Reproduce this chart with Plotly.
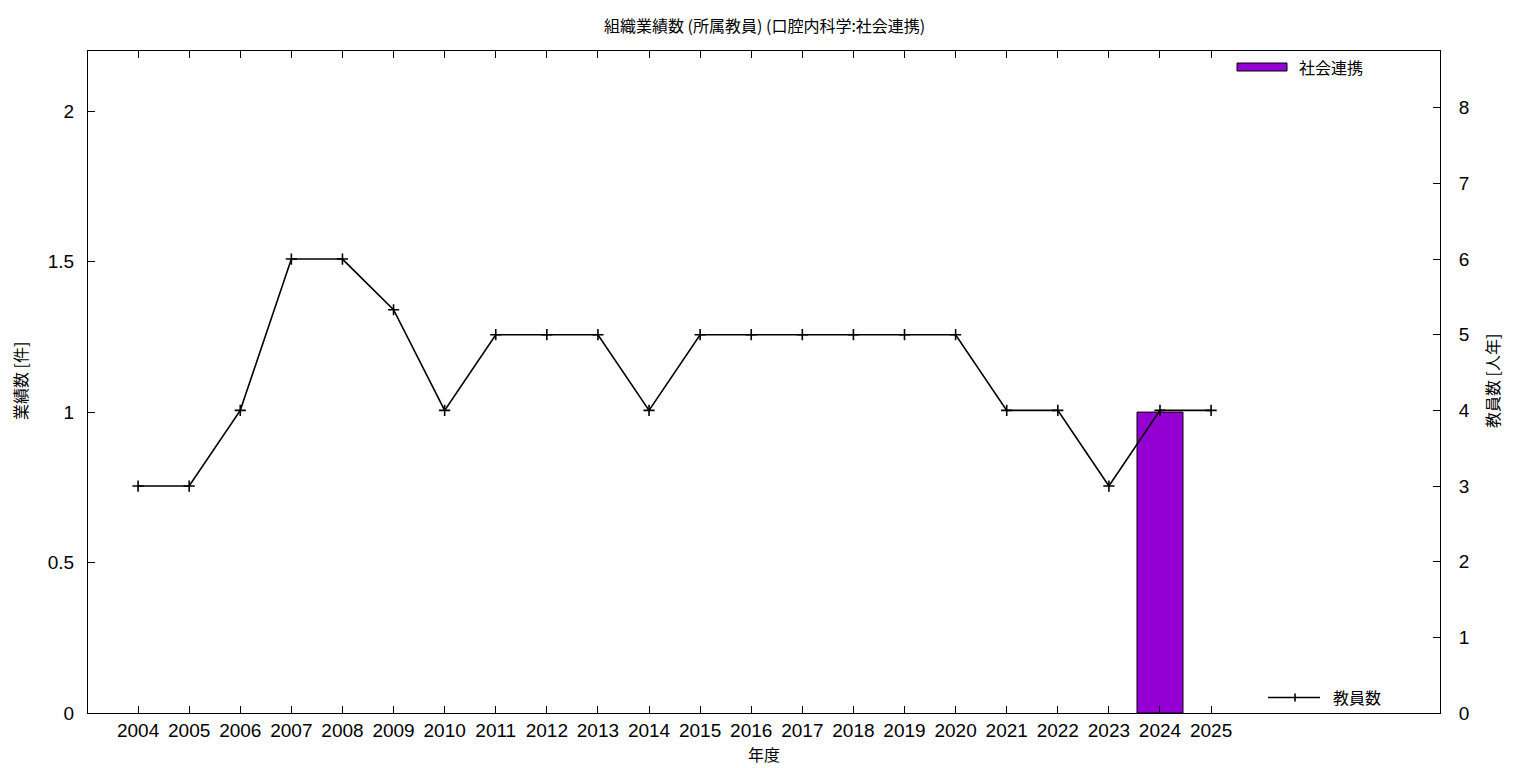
import plotly.graph_objects as go

years = list(range(2004, 2026))
staff = [3, 3, 4, 6, 6, 5.33, 4, 5, 5, 5, 4, 5, 5, 5, 5, 5, 5, 4, 4, 3, 4, 4]
bar_years = [2024]
bar_values = [1]
left_ticks = [0, 0.5, 1, 1.5, 2]
left_labels = ["0", "0.5", "1", "1.5", "2"]
right_ticks = [0, 1, 2, 3, 4, 5, 6, 7, 8]

title = "組織業績数 (所属教員) (口腔内科学:社会連携)"
bar_name = "社会連携"
line_name = "教員数"

FONT = "Liberation Sans, Noto Sans CJK JP, sans-serif"
JP = "Noto Sans CJK JP, Liberation Sans, sans-serif"
OFF = 8  # page body margin
W, H = 1536 - OFF, 768 - OFF
# target pixel positions in the screenshot
L, R, T, B = 88, 1440, 51, 713

def px(x):
    return (x - L) / (R - L)

def py(y):
    return (B - y) / (B - T)

fig = go.Figure()
fig.add_trace(go.Bar(x=bar_years, y=bar_values, width=0.9, name=bar_name,
                     marker=dict(color="#9400D3", line=dict(color="black", width=1)),
                     yaxis="y", showlegend=False))
fig.add_trace(go.Scatter(x=years, y=staff, mode="lines+markers", name=line_name,
                         line=dict(color="black", width=1.6),
                         marker=dict(symbol="cross-thin", size=8,
                                     line=dict(color="black", width=1.6)),
                         yaxis="y2", showlegend=False))

shapes = [
    dict(type="rect", xref="paper", yref="paper", x0=px(1237), x1=px(1287),
         y0=py(71), y1=py(63), fillcolor="#9400D3", line=dict(color="black", width=1)),
    dict(type="line", xref="paper", yref="paper", x0=px(1268), x1=px(1320),
         y0=py(697.5), y1=py(697.5), line=dict(color="black", width=1.6)),
    dict(type="line", xref="paper", yref="paper", x0=px(1295), x1=px(1295),
         y0=py(693.5), y1=py(701.5), line=dict(color="black", width=1.6)),
]

def ann(text, x, y, anchor="center", angle=0, size=16):
    return dict(text=text, xref="paper", yref="paper", x=px(x), y=py(y),
                xanchor=anchor, yanchor="middle", textangle=angle, showarrow=False,
                borderpad=0,
                font=dict(family=JP, size=size, color="black"))

annotations = [
    ann(bar_name, 1298, 67, "left"),
    ann(line_name, 1332, 697, "left"),
    ann("業績数 [件]", 20, 381, angle=-90),
    ann("教員数 [人年]", 1492, 381, angle=-90),
    ann("年度", 764, 754),
    ann(title, 764, 25),
]

fig.update_layout(
    width=W, height=H,
    margin=dict(l=L - OFF, r=W - (R - OFF), t=T - OFF, b=H - (B - OFF), pad=0),
    paper_bgcolor="white", plot_bgcolor="white",
    font=dict(family=FONT, size=19, color="black"),
    showlegend=False,
    shapes=shapes, annotations=annotations,
    xaxis=dict(range=[2003.02, 2029.48], tickvals=years, ticktext=[str(y) for y in years],
               ticks="inside", ticklen=7, tickwidth=1, tickcolor="black",
               showline=True, linecolor="black", linewidth=1, mirror="ticks",
               showgrid=False, zeroline=False, tickfont=dict(family=FONT, size=19)),
    yaxis=dict(range=[0, 2.2], tickvals=left_ticks, ticktext=left_labels,
               ticks="inside", ticklen=7, tickcolor="black",
               showline=True, linecolor="black", linewidth=1,
               showgrid=False, zeroline=False, ticklabelstandoff=9,
               tickfont=dict(family=FONT, size=19)),
    yaxis2=dict(range=[0, 8.75], tickvals=right_ticks, ticktext=[str(v) for v in right_ticks],
                overlaying="y", side="right",
                ticks="inside", ticklen=7, tickcolor="black",
                showline=True, linecolor="black", linewidth=1,
                showgrid=False, zeroline=False, ticklabelstandoff=14,
                tickfont=dict(family=FONT, size=19)),
)

fig.write_html("out.html")
